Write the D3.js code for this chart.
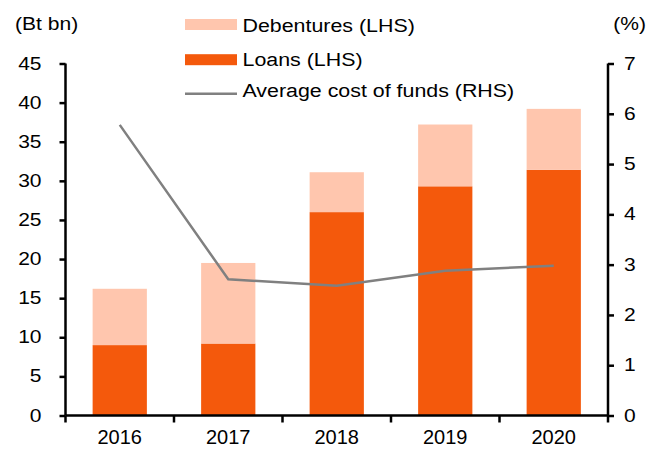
<!DOCTYPE html>
<html>
<head>
<meta charset="utf-8">
<script src="https://cdn.jsdelivr.net/npm/d3@7"></script>
<style>
  body { margin: 0; background: #fff; }
  text { font-family: "Liberation Sans", Arial, sans-serif; fill: #000; }
</style>
</head>
<body>
<div id="chart"></div>
<script>
var years = ["2016", "2017", "2018", "2019", "2020"];
var loans = [9.0, 9.2, 26.0, 29.3, 31.4];
var debentures = [7.2, 10.3, 5.1, 7.9, 7.8];
var costOfFunds = [5.78, 2.71, 2.58, 2.88, 2.98];
var leftTicks = [0, 5, 10, 15, 20, 25, 30, 35, 40, 45];
var rightTicks = [0, 1, 2, 3, 4, 5, 6, 7];

var W = 660, H = 450;
var margin = { top: 63.5, right: 52, bottom: 34.5, left: 65.5 },
    width = W - margin.left - margin.right,
    height = H - margin.top - margin.bottom;

var svg = d3.select("#chart").append("svg")
    .attr("width", W).attr("height", H);
var g = svg.append("g")
    .attr("transform", "translate(" + margin.left + "," + margin.top + ")");

var x = d3.scaleBand().domain(years).range([0, width]).paddingInner(0);
var yL = d3.scaleLinear().domain([0, 45]).range([height, 0]);
var yR = d3.scaleLinear().domain([0, 7]).range([height, 0]);

// text in the original is a bit wider than the font: stretch horizontally
function stretch(sel, s) {
  sel.each(function() {
    var t = d3.select(this);
    var tx = +t.attr("x") || 0, ty = +t.attr("y") || 0;
    t.attr("x", 0).attr("y", 0)
     .attr("transform", "translate(" + tx + "," + ty + ") scale(" + s + ",1)");
  });
}

var barW = x.bandwidth() * 0.5;
var rows = years.map(function(yr, i) {
  return { year: yr, loans: loans[i], deb: debentures[i] };
});

// loans (bottom)
g.selectAll(".loan").data(rows).enter().append("rect")
    .attr("x", function(d) { return x(d.year) + (x.bandwidth() - barW) / 2; })
    .attr("width", barW)
    .attr("y", function(d) { return yL(d.loans); })
    .attr("height", function(d) { return yL(0) - yL(d.loans); })
    .attr("fill", "#f4590c");

// debentures stacked on top
g.selectAll(".deb").data(rows).enter().append("rect")
    .attr("x", function(d) { return x(d.year) + (x.bandwidth() - barW) / 2; })
    .attr("width", barW)
    .attr("y", function(d) { return yL(d.loans + d.deb); })
    .attr("height", function(d) { return yL(d.loans) - yL(d.loans + d.deb); })
    .attr("fill", "#ffc6ae");

// cost of funds line
g.append("path")
    .datum(costOfFunds)
    .attr("fill", "none")
    .attr("stroke", "#808080")
    .attr("stroke-width", 2.5)
    .attr("d", d3.line()
        .x(function(d, i) { return x(years[i]) + x.bandwidth() / 2; })
        .y(function(d) { return yR(d); }));

// axes
var axL = g.append("g")
    .call(d3.axisLeft(yL).tickValues(leftTicks).tickSize(6).tickPadding(18));
var axR = g.append("g").attr("transform", "translate(" + width + ",0)")
    .call(d3.axisRight(yR).tickValues(rightTicks).tickFormat(d3.format("d")).tickSize(6).tickPadding(10));
var axB = g.append("g").attr("transform", "translate(0," + height + ")")
    .call(d3.axisBottom(x).tickSize(0).tickPadding(14));

// category boundary ticks on x axis
axB.selectAll(".bnd").data(d3.range(years.length + 1)).enter().append("line")
    .attr("x1", function(i) { return i * x.step(); })
    .attr("x2", function(i) { return i * x.step(); })
    .attr("y1", 0).attr("y2", 7)
    .attr("stroke", "#000").attr("stroke-width", 2.5);

[axL, axR, axB].forEach(function(a) {
  a.select(".domain").attr("stroke", "#000").attr("stroke-width", 2.5);
  a.selectAll(".tick line").attr("stroke", "#000").attr("stroke-width", 2.5);
  a.selectAll("text").attr("font-family", null);
});
axL.select(".domain").attr("d", "M0," + height + "V0");
axR.select(".domain").attr("d", "M0," + height + "V0");
axB.select(".domain").attr("d", "M0,0H" + width);

axL.selectAll("text").style("font-size", "17.5px").call(stretch, 1.2);
axR.selectAll("text").style("font-size", "17.5px").call(stretch, 1.2);
axB.selectAll("text").style("font-size", "20px");

// axis titles
svg.append("text").attr("x", 15).attr("y", 30).style("font-size", "18px")
    .text("(Bt bn)").call(stretch, 1.17);
svg.append("text").attr("x", 646).attr("y", 30).attr("text-anchor", "end")
    .style("font-size", "18px").text("(%)").call(stretch, 1.17);

// legend
var legend = [
  { label: "Debentures (LHS)", type: "rect", color: "#ffc6ae", cy: 24.5, base: 31.7 },
  { label: "Loans (LHS)", type: "rect", color: "#f4590c", cy: 59.7, base: 66 },
  { label: "Average cost of funds (RHS)", type: "line", color: "#808080", cy: 93.7, base: 97 }
];
var lg = svg.append("g").attr("transform", "translate(185,0)");
legend.forEach(function(d) {
  if (d.type === "rect") {
    lg.append("rect").attr("x", 0).attr("y", d.cy - 5.5).attr("width", 52).attr("height", 11).attr("fill", d.color);
  } else {
    lg.append("line").attr("x1", 0).attr("x2", 52).attr("y1", d.cy).attr("y2", d.cy)
      .attr("stroke", d.color).attr("stroke-width", 2.5);
  }
  lg.append("text").attr("x", 57.5).attr("y", d.base).style("font-size", "18.6px")
    .text(d.label).call(stretch, 1.15);
});
</script>
</body>
</html>
